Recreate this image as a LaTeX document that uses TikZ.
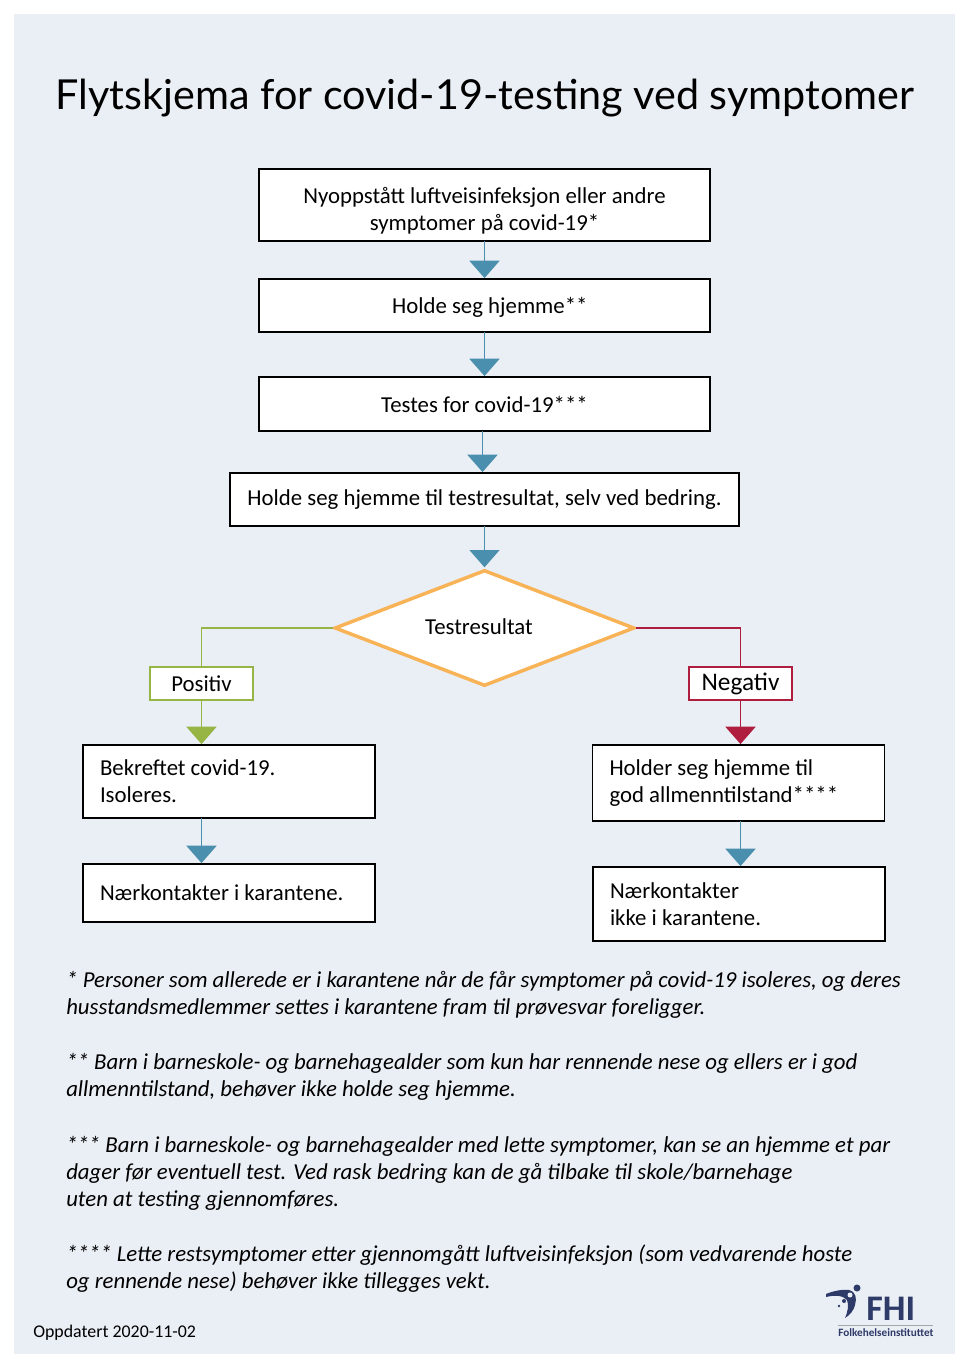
\documentclass[tikz,border=0pt]{standalone}
\usepackage{fontspec}
\setmainfont{Carlito}
\newfontfamily\titlefont{Lato}
\usetikzlibrary{arrows.meta,shapes.geometric}
\definecolor{fhibg}{RGB}{234,238,245}
\definecolor{fhiteal}{RGB}{74,144,174}
\definecolor{fhigreen}{RGB}{151,181,68}
\definecolor{fhired}{RGB}{175,30,63}
\definecolor{fhiorange}{RGB}{248,179,87}
\definecolor{fhiblue}{RGB}{46,58,103}
\tikzstyle{body} = [font=\fontsize{17.1}{20.25}\selectfont]
\tikzstyle{box} = [body, draw=black, line width=1pt, fill=white, align=center, inner sep=0pt, outer sep=0pt]
\tikzstyle{lbox} = [box, align=flush left, text width=193.5pt, inner xsep=12.75pt]
\tikzstyle{tag} = [box, line width=1.1pt, minimum width=77.25pt, minimum height=24.75pt]
\tikzstyle{link} = [line width=1.3pt]
\tikzstyle{flow} = [link, shorten >=0.7pt, -{Triangle[length=13pt,width=22.5pt]}]
\tikzstyle{note} = [anchor=west, align=flush left, inner sep=0pt, font=\fontsize{17.1}{20.25}\selectfont\itshape]
\begin{document}
\begin{tikzpicture}[x=0.75pt, y=-0.75pt]
\useasboundingbox (0,0) rectangle (970,1370);
\fill[fhibg] (14,14) rectangle (955,1354);

\node[font=\titlefont\fontsize{31}{36}\selectfont] (title) at (485,98) {Flytskjema for covid-19-testing ved symptomer};

% main column
\node[box, minimum width=338.25pt, minimum height=54pt] (onset) at (484.5,205) {\rule{0pt}{21.5pt}Nyoppstått luftveisinfeksjon eller andre\\symptomer på covid-19*};
\node[box, minimum width=338.25pt, minimum height=39.75pt] (home) at (484.5,305.5) {\hspace*{8pt}\rule{0pt}{15pt}Holde seg hjemme**};
\node[box, minimum width=338.25pt, minimum height=40.5pt] (test) at (484.5,404) {Testes for covid-19***};
\node[box, minimum width=381.75pt, minimum height=39.75pt] (wait) at (484.5,499.5) {Holde seg hjemme til testresultat, selv ved bedring.};
\node[diamond, draw=fhiorange, fill=white, line width=2.6pt, inner sep=0pt, minimum width=225pt, minimum height=87pt] (result) at (484.5,628) {};
\node[body, inner sep=0pt] (resulttext) at (479,627) {Testresultat};

% branches
\node[tag, draw=fhigreen] (pos) at (201.5,683.5) {Positiv};
\node[tag, draw=fhired, font=\fontsize{19}{20.25}\selectfont] (neg) at (740.5,683.5) {Negativ};
\node[lbox, minimum height=54.75pt] (confirmed) at (229,781.5) {Bekreftet covid-19.\\Isoleres.};
\node[lbox, minimum height=43.5pt] (quarantine) at (229,893) {Nærkontakter i karantene.};
\node[lbox, minimum height=57pt] (stays) at (738.5,783) {Holder seg hjemme til\\god allmenntilstand****};
\node[lbox, minimum height=55.5pt] (noquarantine) at (739,904) {Nærkontakter\\ikke i karantene.};

\draw[flow, fhiteal] (onset.south) -- (home.north);
\draw[flow, fhiteal] (home.south) -- (test.north);
\draw[flow, fhiteal] ([xshift=-1.5pt]test.south) -- ([xshift=-1.5pt]wait.north);
\draw[flow, fhiteal] (wait.south) -- (result.north);
\draw[link, fhigreen] (result.west) -| (pos.north);
\draw[link, fhired] (result.east) -| (neg.north);
\draw[flow, fhigreen] (pos.south) -- (pos.south |- confirmed.north);
\draw[flow, fhired] (neg.south) -- (neg.south |- stays.north);
\draw[flow, fhiteal] (pos.south |- confirmed.south) -- (pos.south |- quarantine.north);
\draw[flow, fhiteal] (neg.south |- stays.south) -- (neg.south |- noquarantine.north);

% footnotes
\node[note] (note1) at (66,995) {* Personer som allerede er i karantene når de får symptomer på covid-19 isoleres, og deres\\husstandsmedlemmer settes i karantene fram til prøvesvar foreligger.};
\node[note] (note2) at (66,1077) {** Barn i barneskole- og barnehagealder som kun har rennende nese og ellers er i god\\allmenntilstand, behøver ikke holde seg hjemme.};
\node[note] (note3) at (66,1173) {*** Barn i barneskole- og barnehagealder med lette symptomer, kan se an hjemme et par\\dager før eventuell test. Ved rask bedring kan de gå tilbake til skole/barnehage\\uten at testing gjennomføres.};
\node[note] (note4) at (66,1269) {**** Lette restsymptomer etter gjennomgått luftveisinfeksjon (som vedvarende hoste\\og rennende nese) behøver ikke tillegges vekt.};
\node[anchor=base west, inner sep=0pt, font=\fontsize{13.4}{16}\selectfont] (updated) at (33,1337) {Oppdatert 2020-11-02};

% logo
\fill[fhiblue] (826,1294) .. controls (833,1291) and (843,1289) .. (849,1290) .. controls (856,1292) and (857,1298) .. (855,1305) .. controls (854,1310) and (850,1315) .. (845,1318) .. controls (848,1311) and (849,1305) .. (847,1300) .. controls (843,1295) and (834,1295) .. (826,1297) -- cycle;
\fill[fhibg] (850,1295) circle (2.5);
\fill[fhiblue] (857,1288) circle (3.5);
\fill[fhiblue] (844,1301) circle (2);
\fill[fhiblue] (839,1306) circle (1.3);
\node[anchor=base west, inner sep=0pt, text=fhiblue, font=\fontsize{27}{27}\bfseries\selectfont] (logoname) at (866,1320) {FHI};
\draw[gray!70, line width=0.6pt] (838,1325) -- (933,1325);
\node[anchor=base west, inner sep=0pt, text=fhiblue, font=\fontsize{8.4}{10}\bfseries\selectfont] (logotext) at (838,1336) {Folkehelseinstituttet};
\end{tikzpicture}
\end{document}
